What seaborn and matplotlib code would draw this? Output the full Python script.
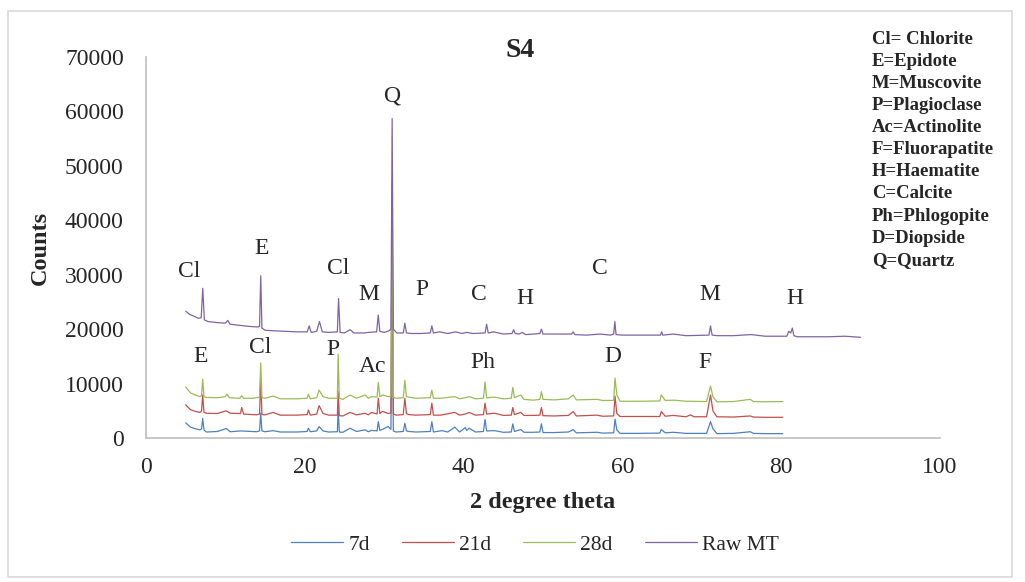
import numpy as np
import pandas as pd
import matplotlib as mpl
mpl.use("Agg")
import matplotlib.pyplot as plt
from matplotlib.patches import Rectangle
import seaborn as sns

# 2-theta / counts
theta_7d = [5.0, 5.6, 6.2, 6.8, 7.0, 7.14, 7.3, 7.6, 9.0, 10.1, 10.6, 12.0, 13.9, 14.3, 14.45, 14.6,
            15.0, 16.0, 16.9, 19.0, 20.3, 20.45, 20.7, 21.5, 21.8, 22.3, 23.0, 24.1, 24.2, 24.35,
            24.8, 25.7, 26.5, 27.6, 28.0, 28.4, 29.1, 29.26, 29.45, 29.8, 30.5, 30.85, 31.0, 31.15,
            31.5, 32.4, 32.6, 32.8, 33.1, 34.0, 35.8, 36.0, 36.2, 37.3, 38.0, 38.9, 39.5, 40.2, 40.4,
            40.7, 41.5, 42.5, 42.7, 42.9, 43.9, 45.0, 46.0, 46.2, 46.4, 47.2, 47.6, 48.8, 49.6, 49.8,
            50.0, 51.4, 53.2, 53.8, 54.2, 56.8, 57.5, 58.9, 59.07, 59.3, 59.7, 62.0, 64.7, 64.9, 65.4,
            66.4, 68.0, 70.6, 71.1, 71.4, 71.9, 74.0, 76.1, 76.5, 78.0, 80.2]
counts_7d = [2800, 2000, 1700, 1500, 1700, 3600, 1500, 1100, 1200, 1750, 1150, 1300, 1150, 1300, 4550, 1300,
             1150, 1350, 1100, 1100, 1200, 1800, 1150, 1300, 2100, 1300, 1100, 1150, 5200, 1100,
             1050, 1800, 1200, 1500, 1150, 1400, 1300, 3000, 1400, 1600, 2100, 1600, 38000, 1300,
             1100, 1200, 2700, 1300, 1200, 1100, 1200, 3000, 1100, 1350, 1100, 2000, 1100, 1900, 1400,
             1800, 1100, 1200, 3400, 1300, 1350, 1050, 1100, 2600, 1200, 1550, 1050, 1050, 1100, 2600,
             1000, 1000, 1100, 1550, 950, 1050, 900, 950, 3450, 1500, 850, 850, 900, 1550, 950,
             1050, 850, 850, 3000, 1700, 800, 850, 1150, 850, 800, 800]

theta_21d = [5.0, 5.6, 6.2, 6.8, 7.0, 7.14, 7.3, 7.6, 9.0, 10.1, 10.6, 11.9, 12.05, 12.3, 13.9, 14.3,
             14.45, 14.6, 15.0, 16.0, 16.9, 19.0, 20.3, 20.45, 20.7, 21.5, 21.8, 22.3, 23.0, 24.1,
             24.2, 24.35, 24.8, 25.7, 26.5, 27.6, 28.0, 28.4, 29.1, 29.26, 29.45, 29.8, 30.5, 30.85,
             31.0, 31.15, 31.5, 32.4, 32.6, 32.8, 33.1, 34.0, 35.8, 36.0, 36.2, 37.1, 38.9, 39.5, 40.2,
             40.7, 41.5, 42.5, 42.7, 42.9, 43.9, 45.0, 46.0, 46.2, 46.4, 47.2, 47.6, 48.8, 49.6, 49.8,
             50.0, 51.4, 53.2, 53.8, 54.2, 56.8, 57.5, 58.9, 59.07, 59.3, 59.7, 62.0, 64.7, 64.9, 65.4,
             66.4, 68.0, 68.6, 69.0, 70.6, 71.1, 71.4, 71.9, 74.0, 76.1, 76.5, 78.0, 80.2]
counts_21d = [6100, 5200, 4900, 4700, 5000, 7900, 4700, 4550, 4500, 5000, 4550, 4500, 5600, 4400, 4250, 4400,
              11000, 4300, 4250, 4700, 4200, 4200, 4300, 5150, 4200, 4400, 5950, 4500, 4200, 4200,
              8500, 4100, 4050, 4700, 4250, 4550, 4250, 4700, 4400, 7300, 4500, 4900, 4500, 4600,
              42000, 4400, 4200, 4300, 7300, 4500, 4300, 4200, 4300, 6400, 4200, 4200, 4700, 4200, 4400,
              4700, 4200, 4300, 6400, 4400, 4550, 4150, 4200, 5600, 4300, 4700, 4150, 4150, 4200, 5600,
              4100, 4050, 4150, 4850, 4050, 4200, 4000, 4050, 7700, 4500, 3950, 3950, 3950, 4850, 4000,
              4150, 3900, 4250, 3900, 3900, 7900, 5000, 3900, 3850, 4050, 3850, 3800, 3800]

theta_28d = [5.0, 5.6, 6.2, 6.8, 7.0, 7.14, 7.3, 7.6, 9.0, 10.0, 10.2, 10.5, 11.8, 12.05, 12.3, 13.5,
             14.3, 14.45, 14.6, 15.0, 16.0, 16.9, 19.0, 20.3, 20.45, 20.7, 21.5, 21.8, 22.3, 23.0,
             24.1, 24.2, 24.35, 24.8, 25.7, 26.5, 27.6, 28.0, 28.4, 29.1, 29.26, 29.45, 29.8, 30.5,
             30.85, 31.0, 31.15, 31.5, 32.4, 32.6, 32.8, 33.1, 34.0, 35.8, 36.0, 36.2, 37.1, 38.9, 39.5,
             40.2, 40.7, 41.5, 42.5, 42.7, 42.9, 43.9, 45.0, 46.0, 46.2, 46.4, 47.2, 47.6, 48.8, 49.6,
             49.8, 50.0, 51.4, 53.2, 53.8, 54.2, 56.8, 57.5, 58.9, 59.07, 59.3, 59.7, 62.0, 64.7, 64.9,
             65.4, 66.5, 68.0, 70.6, 71.1, 71.4, 71.9, 74.0, 76.1, 76.5, 78.0, 80.2]
counts_28d = [9400, 8300, 7900, 7600, 7800, 10800, 7600, 7450, 7400, 7600, 8050, 7400, 7300, 7750, 7300, 7300,
              7500, 13800, 7400, 7300, 7700, 7200, 7200, 7300, 8050, 7200, 7400, 8800, 7600, 7300,
              7300, 15400, 7300, 7100, 7900, 7300, 7900, 7300, 7600, 7500, 10200, 7600, 7900, 7600,
              7700, 47000, 7500, 7300, 7400, 10600, 7600, 7500, 7300, 7400, 8800, 7300, 7300, 7600, 7200,
              7400, 7600, 7200, 7300, 10300, 7400, 7500, 7200, 7300, 9300, 7400, 7900, 7100, 6950, 7100,
              8500, 7100, 7000, 7200, 7900, 7000, 7100, 6900, 6900, 11000, 7900, 6750, 6750, 6800, 7900,
              6900, 6950, 6750, 6700, 9550, 7600, 6650, 6700, 7100, 6700, 6650, 6700]

theta_raw = [5.0, 5.5, 6.0, 6.6, 6.95, 7.15, 7.35, 7.8, 9.0, 10.0, 10.3, 10.6, 11.8, 13.0, 14.1, 14.3,
             14.45, 14.6, 15.0, 16.0, 17.5, 19.0, 20.3, 20.55, 20.8, 21.5, 21.85, 22.2, 23.0, 24.1,
             24.25, 24.45, 25.0, 25.7, 26.2, 27.5, 28.0, 29.05, 29.25, 29.45, 30.0, 30.6, 30.85, 31.0,
             31.15, 31.6, 32.4, 32.6, 32.8, 33.5, 34.5, 35.8, 36.0, 36.2, 37.0, 38.0, 39.0, 39.8, 40.4,
             41.2, 42.7, 42.9, 43.1, 43.8, 45.0, 46.1, 46.3, 46.5, 47.0, 47.4, 47.8, 48.8, 49.6, 49.8,
             50.0, 51.0, 52.5, 53.6, 53.8, 54.0, 55.5, 57.2, 58.5, 58.9, 59.05, 59.2, 60.0, 62.0, 64.8,
             64.95, 65.1, 66.4, 68.0, 70.9, 71.1, 71.3, 72.0, 74.0, 76.2, 78.0, 80.7, 80.95, 81.2, 81.4,
             81.6, 82.0, 84.0, 86.0, 88.0, 90.0]
counts_raw = [23300, 22700, 22400, 22000, 22100, 27500, 21700, 21400, 21200, 21100, 21600, 20900, 20700, 20500, 20400, 20500,
              29800, 20200, 19800, 19700, 19600, 19500, 19500, 20600, 19400, 19600, 21400, 19500, 19400, 19500,
              25600, 19400, 19300, 19900, 19300, 19300, 19400, 19500, 22600, 19600, 19400, 19700, 20000, 58700,
              20000, 19300, 19300, 21100, 19300, 19200, 19200, 19300, 20600, 19300, 19500, 19200, 19500, 19200, 19400,
              19200, 19300, 20900, 19300, 19500, 19100, 19200, 19900, 19200, 19100, 19400, 19000, 19100, 19200, 20000,
              19100, 19100, 19100, 19100, 19500, 19000, 18900, 19100, 18900, 19100, 21400, 19000, 18900, 18900, 18900,
              19500, 18900, 19100, 18800, 18900, 20600, 18900, 18800, 18800, 19000, 18700, 18700, 19600, 19300, 20200,
              18800, 18600, 18600, 18600, 18700, 18500]

series_names = ["7d", "21d", "28d", "Raw MT"]
colors = ["#4F81BD", "#C0504D", "#9BBB59", "#8064A2"]

# mineral labels: (text, 2theta, counts)
peak_labels = [("Cl", 5.5, 30500), ("E", 14.5, 34900), ("Cl", 24.2, 31200), ("M", 28.1, 26300),
               ("P", 34.8, 27200), ("C", 41.9, 26300), ("H", 47.7, 25700), ("C", 57.2, 31200),
               ("M", 71.0, 26300), ("H", 81.7, 25700), ("Q", 31.1, 62800),
               ("E", 6.9, 14900), ("Cl", 14.4, 16700), ("P", 23.6, 16200), ("Ac", 28.5, 13200),
               ("Ph", 42.4, 13800), ("D", 58.8, 14900), ("F", 70.4, 13800)]

key_text = ["Cl= Chlorite", "E=Epidote", "M=Muscovite", "P=Plagioclase", "Ac=Actinolite",
            "F=Fluorapatite", "H=Haematite", "C=Calcite", "Ph=Phlogopite", "D=Diopside", "Q=Quartz"]

frames = []
for name, th, ct in zip(series_names,
                        [theta_7d, theta_21d, theta_28d, theta_raw],
                        [counts_7d, counts_21d, counts_28d, counts_raw]):
    frames.append(pd.DataFrame({"theta": th, "counts": ct, "sample": name}))
df = pd.concat(frames, ignore_index=True)

sns.set_style("white")
plt.rcParams["font.family"] = ["Liberation Serif", "DejaVu Serif"]

fig = plt.figure(figsize=(10.25, 5.82), dpi=100)
ax = fig.add_axes([146/1025, 1 - 438/582, 794/1025, 381/582])

sns.lineplot(data=df, x="theta", y="counts", hue="sample", hue_order=series_names,
             palette=colors, estimator=None, sort=False, linewidth=0.9, ax=ax)

ax.set_xlim(0, 100)
ax.set_ylim(0, 70000)
ax.set_xticks(np.arange(0, 101, 20))
ax.set_yticks(np.arange(0, 70001, 10000))
ax.tick_params(axis="y", labelsize=17, pad=16, length=0)
ax.tick_params(axis="x", labelsize=17, pad=14, length=0)
for s in ["top", "right"]:
    ax.spines[s].set_visible(False)
for s in ["left", "bottom"]:
    ax.spines[s].set_color("#bfbfbf")
    ax.spines[s].set_linewidth(1.2)

ax.set_xlabel("2 degree theta", fontsize=17.5, fontweight="bold", labelpad=10)
ax.set_ylabel("Counts", fontsize=17.5, fontweight="bold", labelpad=10)
ax.text(0.471, 1.018, "S4", transform=ax.transAxes, ha="center", va="center",
        fontsize=20, fontweight="bold")

for txt, x, y in peak_labels:
    ax.text(x, y, txt, ha="center", va="center", fontsize=17)

# mineral key in the top right corner
fig.text(872/1025, 1 - 31/582, "\n".join(key_text), ha="left", va="top",
         fontsize=13.5, fontweight="bold", linespacing=1.39)

sns.move_legend(ax, "center", bbox_to_anchor=(0.49, -0.28), ncol=4, frameon=False,
                title=None, fontsize=15.5, handlelength=2.4, handletextpad=0.25,
                columnspacing=1.5)

fig.patches.append(Rectangle((8/1025, 5/582), 1004/1025, 566/582, transform=fig.transFigure,
                             fill=False, edgecolor="#d9d9d9", linewidth=1.2))

fig.savefig("out.png", dpi=100)
